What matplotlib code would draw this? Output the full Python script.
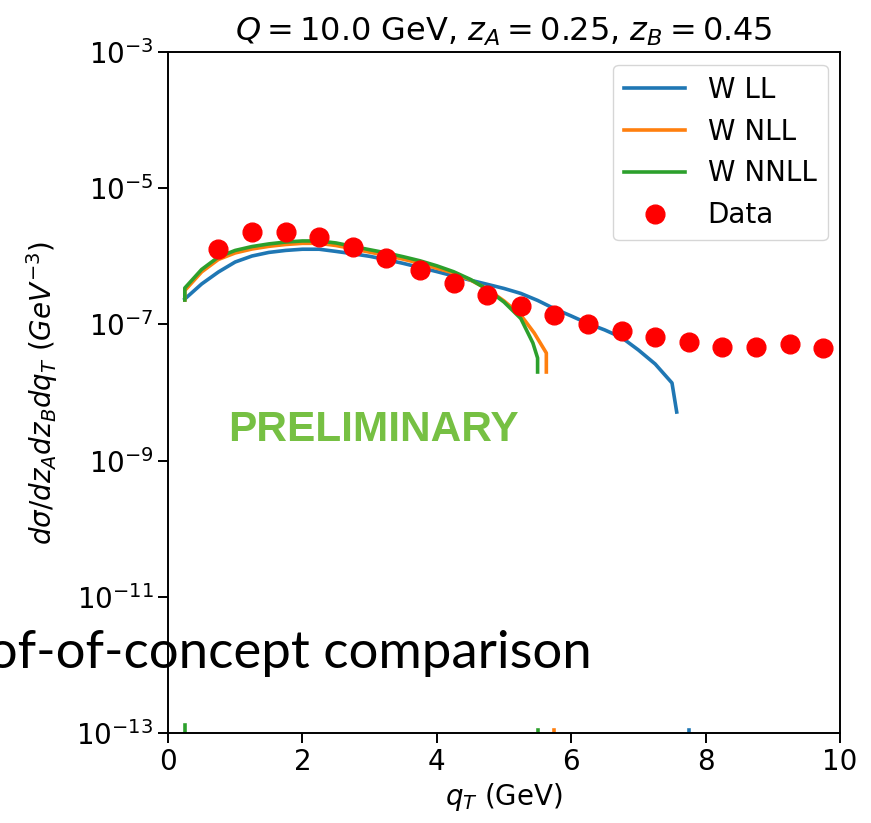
import numpy as np
import matplotlib
matplotlib.use("Agg")
import matplotlib.pyplot as plt
from matplotlib.ticker import FixedLocator, NullLocator, LogFormatterMathtext

# Resummed qT spectra (W term) at LL / NLL / NNLL
qt_ll = [0.25, 0.5, 0.75, 1.0, 1.25, 1.5, 1.75, 2.0, 2.25, 2.5, 2.75, 3.0,
         3.25, 3.5, 3.75, 4.0, 4.25, 4.5, 4.75, 5.0, 5.25, 5.5, 5.75, 6.0,
         6.25, 6.5, 6.75, 7.0, 7.25, 7.5, 7.57]
w_ll = [2.36e-7, 3.92e-7, 5.88e-7, 8.25e-7, 1.01e-6, 1.14e-6, 1.22e-6,
        1.27e-6, 1.27e-6, 1.18e-6, 1.09e-6, 1.00e-6, 8.92e-7, 7.87e-7,
        6.85e-7, 5.96e-7, 5.14e-7, 4.46e-7, 3.88e-7, 3.37e-7, 2.85e-7,
        2.25e-7, 1.70e-7, 1.33e-7, 1.03e-7, 8.28e-8, 6.42e-8, 4.21e-8,
        2.62e-8, 1.38e-8, 5.17e-9]

qt_nll = [0.25, 0.25, 0.5, 0.75, 1.0, 1.25, 1.5, 1.75, 2.0, 2.25, 2.5, 2.75,
          3.0, 3.25, 3.5, 3.75, 4.0, 4.25, 4.5, 4.75, 5.0, 5.25, 5.45, 5.63,
          5.63]
w_nll = [2.28e-7, 3.15e-7, 5.89e-7, 8.99e-7, 1.12e-6, 1.28e-6, 1.40e-6,
         1.49e-6, 1.55e-6, 1.55e-6, 1.44e-6, 1.29e-6, 1.15e-6, 1.03e-6,
         9.07e-7, 7.90e-7, 6.67e-7, 5.69e-7, 4.49e-7, 3.31e-7, 2.21e-7,
         1.37e-7, 7.47e-8, 3.80e-8, 2.00e-8]

qt_nnll = [0.25, 0.25, 0.5, 0.75, 1.0, 1.25, 1.5, 1.75, 2.0, 2.25, 2.5, 2.75,
           3.0, 3.25, 3.5, 3.75, 4.0, 4.25, 4.5, 4.75, 5.0, 5.25, 5.43, 5.5,
           5.5]
w_nnll = [2.28e-7, 3.42e-7, 6.40e-7, 9.77e-7, 1.22e-6, 1.39e-6, 1.52e-6,
          1.62e-6, 1.68e-6, 1.68e-6, 1.57e-6, 1.40e-6, 1.25e-6, 1.12e-6,
          9.86e-7, 8.59e-7, 7.25e-7, 5.94e-7, 4.58e-7, 3.27e-7, 2.13e-7,
          1.22e-7, 5.33e-8, 3.21e-8, 2.00e-8]

# where each curve falls off the bottom of the plot
drop_qt = {"W LL": [7.75], "W NLL": [5.75], "W NNLL": [0.25, 5.5]}
drop_top = {"W LL": [1.10e-13], "W NLL": [1.10e-13], "W NNLL": [1.31e-13, 1.10e-13]}

# measured cross section
qt_data = [0.75, 1.25, 1.75, 2.25, 2.75, 3.25, 3.75, 4.25, 4.75, 5.25,
           5.75, 6.25, 6.75, 7.25, 7.75, 8.25, 8.75, 9.25, 9.75]
xs_data = [1.27e-6, 2.30e-6, 2.30e-6, 1.90e-6, 1.38e-6, 9.35e-7, 6.29e-7,
           4.10e-7, 2.70e-7, 1.86e-7, 1.37e-7, 1.01e-7, 8.08e-8, 6.53e-8,
           5.57e-8, 4.61e-8, 4.61e-8, 5.15e-8, 4.46e-8]

YMIN, YMAX = 1e-13, 1e-3
FS = 20

plt.rcParams.update({
    "font.family": "DejaVu Sans",
    "mathtext.fontset": "dejavusans",
    "axes.linewidth": 1.4,
    "xtick.major.width": 1.4,
    "ytick.major.width": 1.4,
    "xtick.major.size": 7,
    "ytick.major.size": 7,
})

fig = plt.figure(figsize=(8.71, 8.23), dpi=100)
ax = fig.add_axes([168 / 871, 1 - 733 / 823, 672 / 871, 681 / 823])

curves = [("W LL", qt_ll, w_ll, "#1f77b4"),
          ("W NLL", qt_nll, w_nll, "#ff7f0e"),
          ("W NNLL", qt_nnll, w_nnll, "#2ca02c")]
for name, x, y, c in curves:
    ax.plot(x, y, color=c, lw=2.6, label=name)
    for xq, yt in zip(drop_qt[name], drop_top[name]):
        ax.plot([xq, xq], [YMIN * 0.5, yt], color=c, lw=2.6)

ax.plot(qt_data, xs_data, "o", color="red", ms=13.5, label="Data")

ax.set_yscale("log")
ax.set_xlim(0, 10)
ax.set_ylim(YMIN, YMAX)
ax.yaxis.set_major_locator(FixedLocator([1e-13, 1e-11, 1e-9, 1e-7, 1e-5, 1e-3]))
ax.yaxis.set_major_formatter(LogFormatterMathtext())
ax.yaxis.set_minor_locator(NullLocator())
ax.set_xticks([0, 2, 4, 6, 8, 10])
ax.tick_params(labelsize=FS)

ax.set_title(r"$Q = 10.0$ GeV, $z_A = 0.25$, $z_B = 0.45$", fontsize=FS + 3,
             pad=8)
ax.set_xlabel(r"$q_T$ (GeV)", fontsize=FS, labelpad=4)
ax.set_ylabel(r"$d\sigma/dz_A dz_B dq_T\ (GeV^{-3})$", fontsize=FS,
              labelpad=12)

ax.legend(loc="upper right", fontsize=FS, numpoints=1,
          handlelength=2.2, borderaxespad=0.45)

# slide annotations
fig.text(228 / 871, 1 - 441 / 823, "PRELIMINARY", color="#76c043",
         fontsize=30.5, fontweight="bold", family="Liberation Sans",
         ha="left", va="baseline")
fig.text(592 / 871, 1 - 668 / 823, "proof-of-concept comparison",
         color="black", fontsize=38, family="Lato", fontweight="normal",
         ha="right", va="baseline")

fig.savefig("out.png", dpi=100)
